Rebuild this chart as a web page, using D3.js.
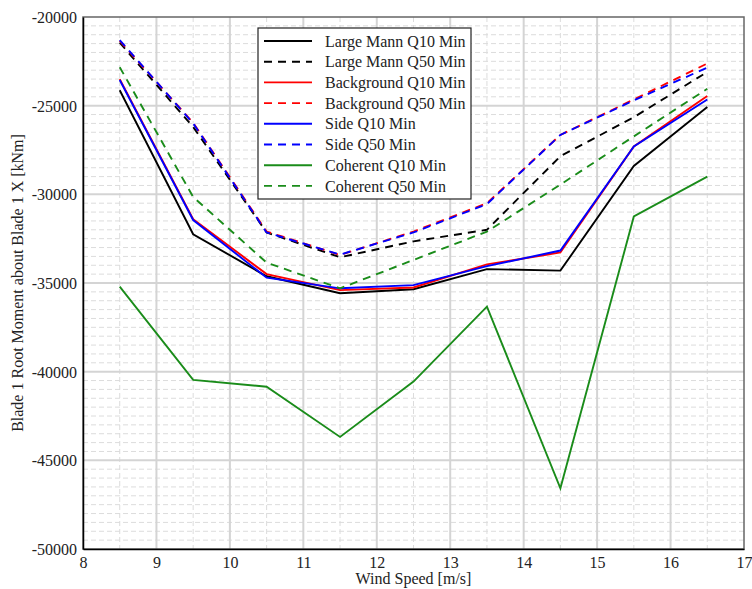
<!DOCTYPE html>
<html><head><meta charset="utf-8">
<script src="https://cdn.jsdelivr.net/npm/d3@7"></script>
<style>body{margin:0;background:#fff}</style>
</head><body><svg id="c" width="752" height="589"></svg>
<script>
const windSpeeds = [8.5, 9.5, 10.5, 11.5, 12.5, 13.5, 14.5, 15.5, 16.5];
const largeMannQ10 = [-24130, -32250, -34620, -35580, -35350, -34220, -34300, -28400, -25080];
const largeMannQ50 = [-21450, -26200, -32150, -33550, -32650, -32000, -27850, -25650, -23100];
const backgroundQ10 = [-23500, -31400, -34500, -35400, -35250, -33950, -33280, -27300, -24450];
const backgroundQ50 = [-21350, -25970, -32100, -33420, -32100, -30500, -26650, -24650, -22620];
const sideQ10 = [-23550, -31450, -34700, -35300, -35120, -34050, -33170, -27300, -24650];
const sideQ50 = [-21300, -26000, -32150, -33400, -32150, -30550, -26650, -24700, -22850];
const coherentQ10 = [-35200, -40460, -40850, -43680, -40560, -36330, -46580, -31250, -29000];
const coherentQ50 = [-22830, -30150, -33850, -35300, -33700, -32100, -29450, -26730, -24050];
const xTicks = [8, 9, 10, 11, 12, 13, 14, 15, 16, 17];
const yTicks = [-20000, -25000, -30000, -35000, -40000, -45000, -50000];
const seriesNames = ["Large Mann Q10 Min","Large Mann Q50 Min","Background Q10 Min","Background Q50 Min","Side Q10 Min","Side Q50 Min","Coherent Q10 Min","Coherent Q50 Min"];
const seriesValues = [largeMannQ10, largeMannQ50, backgroundQ10, backgroundQ50, sideQ10, sideQ50, coherentQ10, coherentQ50];
const seriesColors = ["#000000","#000000","#ff0000","#ff0000","#0000ff","#0000ff","#1a8c1a","#1a8c1a"];
const seriesDashed = [false,true,false,true,false,true,false,true];

const FONT = '"Liberation Serif","Times New Roman",serif';
const svg = d3.select("#c");
const L = 83, R = 744, T = 17, B = 549;
const x = d3.scaleLinear().domain([8, 17]).range([L, R]);
const y = d3.scaleLinear().domain([-50000, -20000]).range([B, T]);

const g = svg.append("g");
// minor grid
g.selectAll(".mx").data(d3.range(8.5, 17, 1)).join("line")
  .attr("x1", d => x(d)).attr("x2", d => x(d)).attr("y1", T).attr("y2", B)
  .attr("stroke", "#dcdcdc").attr("stroke-width", 1).attr("stroke-dasharray", "5,3");
g.selectAll(".my").data(d3.range(-49500, -20000, 500).filter(v => v % 5000 !== 0)).join("line")
  .attr("x1", L).attr("x2", R).attr("y1", d => y(d)).attr("y2", d => y(d))
  .attr("stroke", "#dcdcdc").attr("stroke-width", 1).attr("stroke-dasharray", "5,3");
// major grid
g.selectAll(".Mx").data(xTicks.slice(1, -1)).join("line")
  .attr("x1", d => x(d)).attr("x2", d => x(d)).attr("y1", T).attr("y2", B)
  .attr("stroke", "#d4d4d4").attr("stroke-width", 2);
g.selectAll(".My").data(yTicks.slice(1, -1)).join("line")
  .attr("x1", L).attr("x2", R).attr("y1", d => y(d)).attr("y2", d => y(d))
  .attr("stroke", "#d4d4d4").attr("stroke-width", 2);

// frame
svg.append("rect").attr("x", L).attr("y", T).attr("width", R - L).attr("height", B - T)
  .attr("fill", "none").attr("stroke", "#666").attr("stroke-width", 1.5);

// axes
const fmt = d => String(d);
const xAxis = d3.axisBottom(x).tickValues(xTicks).tickSize(0).tickPadding(8).tickFormat(fmt);
const yAxis = d3.axisLeft(y).tickValues(yTicks).tickSize(0).tickPadding(6).tickFormat(fmt);
const gx = svg.append("g").attr("transform", `translate(0,${B})`).call(xAxis);
const gy = svg.append("g").attr("transform", `translate(${L},0)`).call(yAxis);
[gx, gy].forEach(a => {
  a.attr("font-family", null).attr("font-size", null);
  a.select(".domain").attr("stroke", "#000").attr("stroke-width", 1.5);
  a.selectAll("text").style("font-family", FONT).style("font-size", "16px").attr("fill", "#222");
});
gy.selectAll("text").attr("dy", "0.35em");

// lines
const line = d3.line().x((d, i) => x(windSpeeds[i])).y(d => y(d));
seriesValues.forEach((vals, k) => {
  svg.append("path").datum(vals).attr("d", line)
    .attr("fill", "none").attr("stroke", seriesColors[k]).attr("stroke-width", 1.9)
    .attr("stroke-dasharray", seriesDashed[k] ? "8,6" : null);
});

// axis titles
svg.append("text").attr("x", (L + R) / 2).attr("y", 584).attr("text-anchor", "middle")
  .style("font-family", FONT).style("font-size", "16px").attr("fill", "#222").text("Wind Speed [m/s]");
svg.append("text").attr("transform", `translate(23,${(T + B) / 2}) rotate(-90)`).attr("text-anchor", "middle")
  .style("font-family", FONT).style("font-size", "16px").attr("fill", "#222").text("Blade 1 Root Moment about Blade 1 X [kNm]");

// legend
const lg = svg.append("g");
lg.append("rect").attr("x", 258).attr("y", 28).attr("width", 213).attr("height", 171)
  .attr("fill", "#fff").attr("stroke", "#222").attr("stroke-width", 1.2);
seriesNames.forEach((n, k) => {
  const yy = 41 + k * 20.7;
  lg.append("line").attr("x1", 264).attr("x2", 312).attr("y1", yy).attr("y2", yy)
    .attr("stroke", seriesColors[k]).attr("stroke-width", 1.9)
    .attr("stroke-dasharray", seriesDashed[k] ? "8,6" : null);
  lg.append("text").attr("x", 325).attr("y", yy).attr("dy", "0.35em")
    .style("font-family", FONT).style("font-size", "16px").attr("fill", "#222").text(n);
});
</script></body></html>
